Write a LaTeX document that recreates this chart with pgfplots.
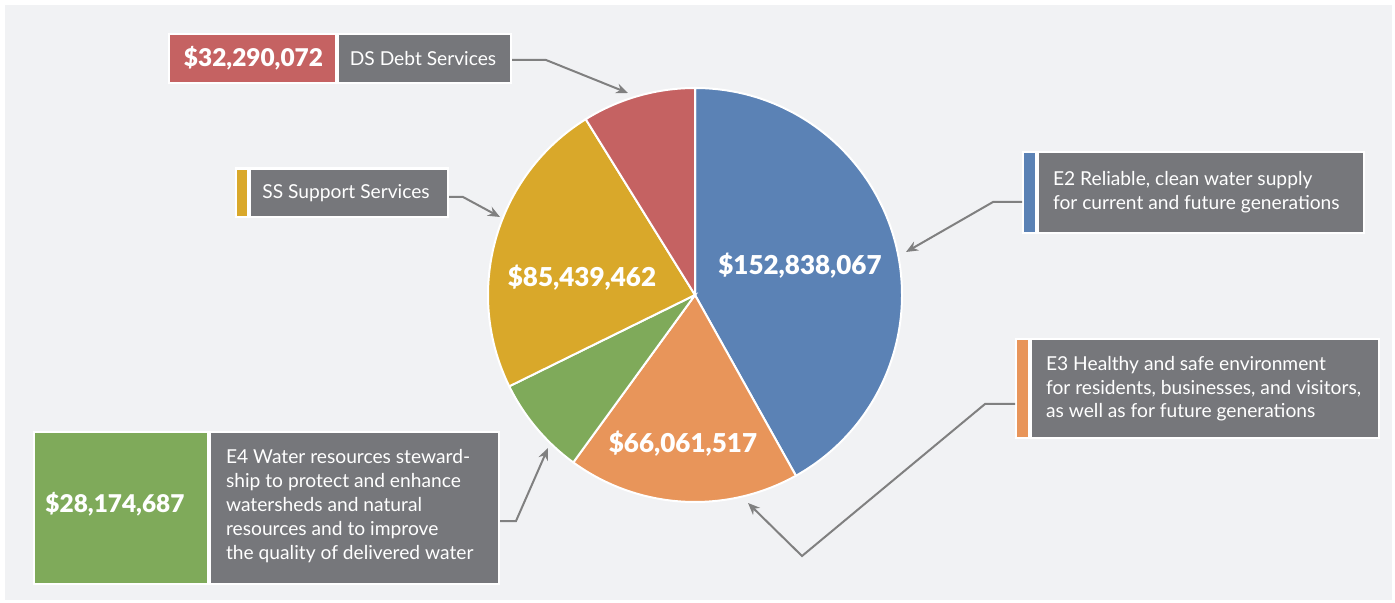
\documentclass[border=0pt]{standalone}
\usepackage{fontspec}
\setmainfont{Lato}
\newfontfamily\heavy{Lato Black}
\usepackage{pgfplots}
\pgfplotsset{compat=1.18}
\usepackage{pgfplotstable}
\usetikzlibrary{arrows.meta}

\definecolor{bgc}{HTML}{F1F2F4}
\definecolor{boxgray}{HTML}{76777B}
\definecolor{arrgray}{HTML}{808080}
\definecolor{pieblue}{HTML}{5B82B5}
\definecolor{pieorange}{HTML}{E8955A}
\definecolor{piegreen}{HTML}{7FAA5A}
\definecolor{piegold}{HTML}{D9A82A}
\definecolor{piered}{HTML}{C56262}

% budget in millions of dollars, clockwise from the top
\pgfplotstableread{
label value
E2 152.838067
E3 66.061517
E4 28.174687
SS 85.439462
DS 32.290072
}\piedata

\pgfplotstablegetelem{0}{value}\of\piedata \let\vA\pgfplotsretval
\pgfplotstablegetelem{1}{value}\of\piedata \let\vB\pgfplotsretval
\pgfplotstablegetelem{2}{value}\of\piedata \let\vC\pgfplotsretval
\pgfplotstablegetelem{3}{value}\of\piedata \let\vD\pgfplotsretval
\pgfplotstablegetelem{4}{value}\of\piedata \let\vE\pgfplotsretval
\pgfmathsetmacro{\tot}{\vA+\vB+\vC+\vD+\vE}
\pgfmathsetmacro{\aA}{90}
\pgfmathsetmacro{\aB}{\aA-360*(\vA/\tot)}
\pgfmathsetmacro{\aC}{\aB-360*(\vB/\tot)}
\pgfmathsetmacro{\aD}{\aC-360*(\vC/\tot)}
\pgfmathsetmacro{\aE}{\aD-360*(\vD/\tot)}
\def\R{103.5pt}

\newcommand{\labfont}{\fontsize{9.6}{11.75}\selectfont}
\newcommand{\numfont}{\heavy\fontsize{12.2}{14}\selectfont}
\newcommand{\piefont}{\heavy\fontsize{13}{15}\selectfont}

\begin{document}
\begin{tikzpicture}
\begin{axis}[
    scale only axis,
    width=697.5pt, height=301.5pt,
    xmin=0, xmax=1395, ymin=0, ymax=603,
    y dir=reverse,
    hide axis, clip=false,
]
% background
\fill[white] (axis cs:0,0) rectangle (axis cs:1395,603);
\fill[bgc] (axis cs:5,5) rectangle (axis cs:1392,600);

% pie slices
\filldraw[pieblue, draw=white, line width=1pt] (axis cs:695,295) -- ++(\aA:\R) arc[start angle=\aA, end angle=\aB, radius=\R] -- cycle;
\filldraw[pieorange, draw=white, line width=1pt] (axis cs:695,295) -- ++(\aB:\R) arc[start angle=\aB, end angle=\aC, radius=\R] -- cycle;
\filldraw[piegreen, draw=white, line width=1pt] (axis cs:695,295) -- ++(\aC:\R) arc[start angle=\aC, end angle=\aD, radius=\R] -- cycle;
\filldraw[piegold, draw=white, line width=1pt] (axis cs:695,295) -- ++(\aD:\R) arc[start angle=\aD, end angle=\aE, radius=\R] -- cycle;
\filldraw[piered, draw=white, line width=1pt] (axis cs:695,295) -- ++(\aE:\R) arc[start angle=\aE, end angle=-270, radius=\R] -- cycle;

\node[text=white, font=\piefont] at (axis cs:800,266) {\$152,838,067};
\node[text=white, font=\piefont] at (axis cs:582,278) {\$85,439,462};
\node[text=white, font=\piefont] at (axis cs:683,444) {\$66,061,517};

% DS box
\fill[white] (axis cs:168,33) rectangle (axis cs:512,84);
\fill[piered] (axis cs:170,35) rectangle (axis cs:335,82);
\fill[boxgray] (axis cs:339,35) rectangle (axis cs:510,82);
\node[text=white, font=\numfont] at (axis cs:253.5,58.5) {\$32,290,072};
\node[text=white, font=\labfont] at (axis cs:423,58.5) {DS Debt Services};

% SS box
\fill[white] (axis cs:235,167) rectangle (axis cs:449,218);
\fill[piegold] (axis cs:237,170) rectangle (axis cs:247,216);
\fill[boxgray] (axis cs:251,170) rectangle (axis cs:447,216);
\node[text=white, font=\labfont] at (axis cs:346,193) {SS Support Services};

% E2 box
\fill[white] (axis cs:1022,151) rectangle (axis cs:1365,234);
\fill[pieblue] (axis cs:1024,153) rectangle (axis cs:1035,232);
\fill[boxgray] (axis cs:1039,153) rectangle (axis cs:1363,232);
\node[text=white, font=\labfont, anchor=west, align=left] at (axis cs:1046,192)
  {E2 Reliable, clean water supply\\for current and future generations};

% E3 box
\fill[white] (axis cs:1015,338) rectangle (axis cs:1380,439);
\fill[pieorange] (axis cs:1017,340) rectangle (axis cs:1028,437);
\fill[boxgray] (axis cs:1032,340) rectangle (axis cs:1378,437);
\node[text=white, font=\labfont, anchor=west, align=left] at (axis cs:1039,389)
  {E3 Healthy and safe environment\\for residents, businesses, and visitors,\\as well as for future generations};

% E4 box
\fill[white] (axis cs:33,431) rectangle (axis cs:500,585);
\fill[piegreen] (axis cs:35,433) rectangle (axis cs:207,583);
\fill[boxgray] (axis cs:211,433) rectangle (axis cs:498,583);
\node[text=white, font=\numfont] at (axis cs:115,504) {\$28,174,687};
\node[text=white, font=\fontsize{9.6}{12.1}\selectfont, anchor=west, align=left] at (axis cs:219,506)
  {E4 Water resources steward-\\ship to protect and enhance\\watersheds and natural\\resources and to improve\\the quality of delivered water};

% leader arrows
\begin{scope}[arrgray, line width=1pt, -{Stealth[length=6pt, width=5pt]}]
\draw (axis cs:512,60) -- (axis cs:546,60) -- (axis cs:628,93);
\draw (axis cs:449,197) -- (axis cs:463,197) -- (axis cs:500,217);
\draw (axis cs:1022,202) -- (axis cs:993,202) -- (axis cs:906,252);
\draw (axis cs:1015,404) -- (axis cs:985,404) -- (axis cs:802,556) -- (axis cs:748,503);
\draw (axis cs:500,521) -- (axis cs:516,521) -- (axis cs:548,448);
\end{scope}
\end{axis}
\end{tikzpicture}
\end{document}
